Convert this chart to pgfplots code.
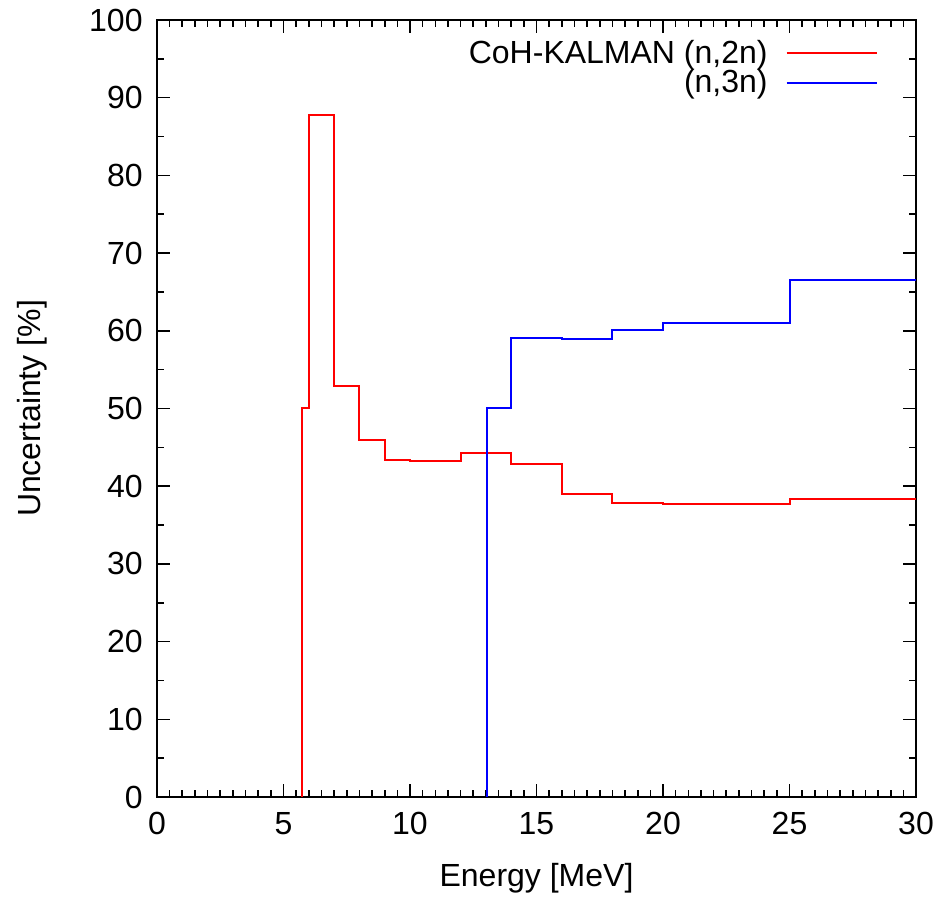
\documentclass[border=0pt]{standalone}
\usepackage{fontspec}
\setmainfont{Liberation Sans}
\usepackage{pgfplots}
\pgfplotsset{compat=1.18}

% step data: x, uncertainty [%]
\begin{document}
\begin{tikzpicture}[font=\fontsize{16}{19}\selectfont]
\begin{axis}[
  scale only axis,
  width=379.5pt, height=388.5pt,
  xmin=0, xmax=30, ymin=0, ymax=100,
  xtick={0,5,...,30}, ytick={0,10,...,100},
  minor x tick num=9, minor y tick num=1,
  tick align=inside,
  major tick length=6.5pt, minor tick length=3.5pt,
  every tick/.style={black, line width=0.8pt},
  axis line style={line width=1pt},
  /pgf/number format/assume math mode=true,
  xticklabel style={inner sep=0pt, anchor=north, yshift=-7.5pt},
  yticklabel style={inner sep=0pt, anchor=east, xshift=-7pt},
  xlabel={Energy [MeV]},
  ylabel={Uncertainty [\%]},
  every axis x label/.style={at={(rel axis cs:0.5,0)}, yshift=-40.5pt, anchor=center},
  every axis y label/.style={at={(rel axis cs:0,0.5)}, xshift=-62.5pt, rotate=90, anchor=center},
  legend plot pos=right,
  legend cell align=right,
  legend style={draw=none, fill=none, at={(rel axis cs:1,1)}, anchor=north east,
    xshift=-19pt, yshift=-10pt, inner sep=0pt, row sep=1.5pt,
    /tikz/column sep=9pt, nodes={inner sep=0pt}},
  legend image code/.code={\draw[#1] (0pt,0pt) -- (45pt,0pt);},
  clip=false,
]
\addplot[const plot, red, line width=1pt] coordinates {
  (5.75,0) (5.75,50.0) (6,87.8) (7,52.9) (8,46.0) (9,43.4) (10,43.3)
  (12,44.3) (14,42.9) (16,39.0) (18,37.8) (20,37.7) (25,38.4) (30,38.4)
};
\addlegendentry{CoH-KALMAN (n,2n)}
\addplot[const plot, blue, line width=1pt] coordinates {
  (13.05,0) (13.05,50.0) (14,59.1) (16,58.9) (18,60.1) (20,61.0) (25,66.5) (30,66.5)
};
\addlegendentry{(n,3n)}
\coordinate (sw) at (rel axis cs:0,0);
\coordinate (ne) at (rel axis cs:1,1);
\end{axis}
\path ([shift={(-78.5pt,-48.5pt)}]sw) rectangle ([shift={(13pt,10pt)}]ne);
\end{tikzpicture}
\end{document}
